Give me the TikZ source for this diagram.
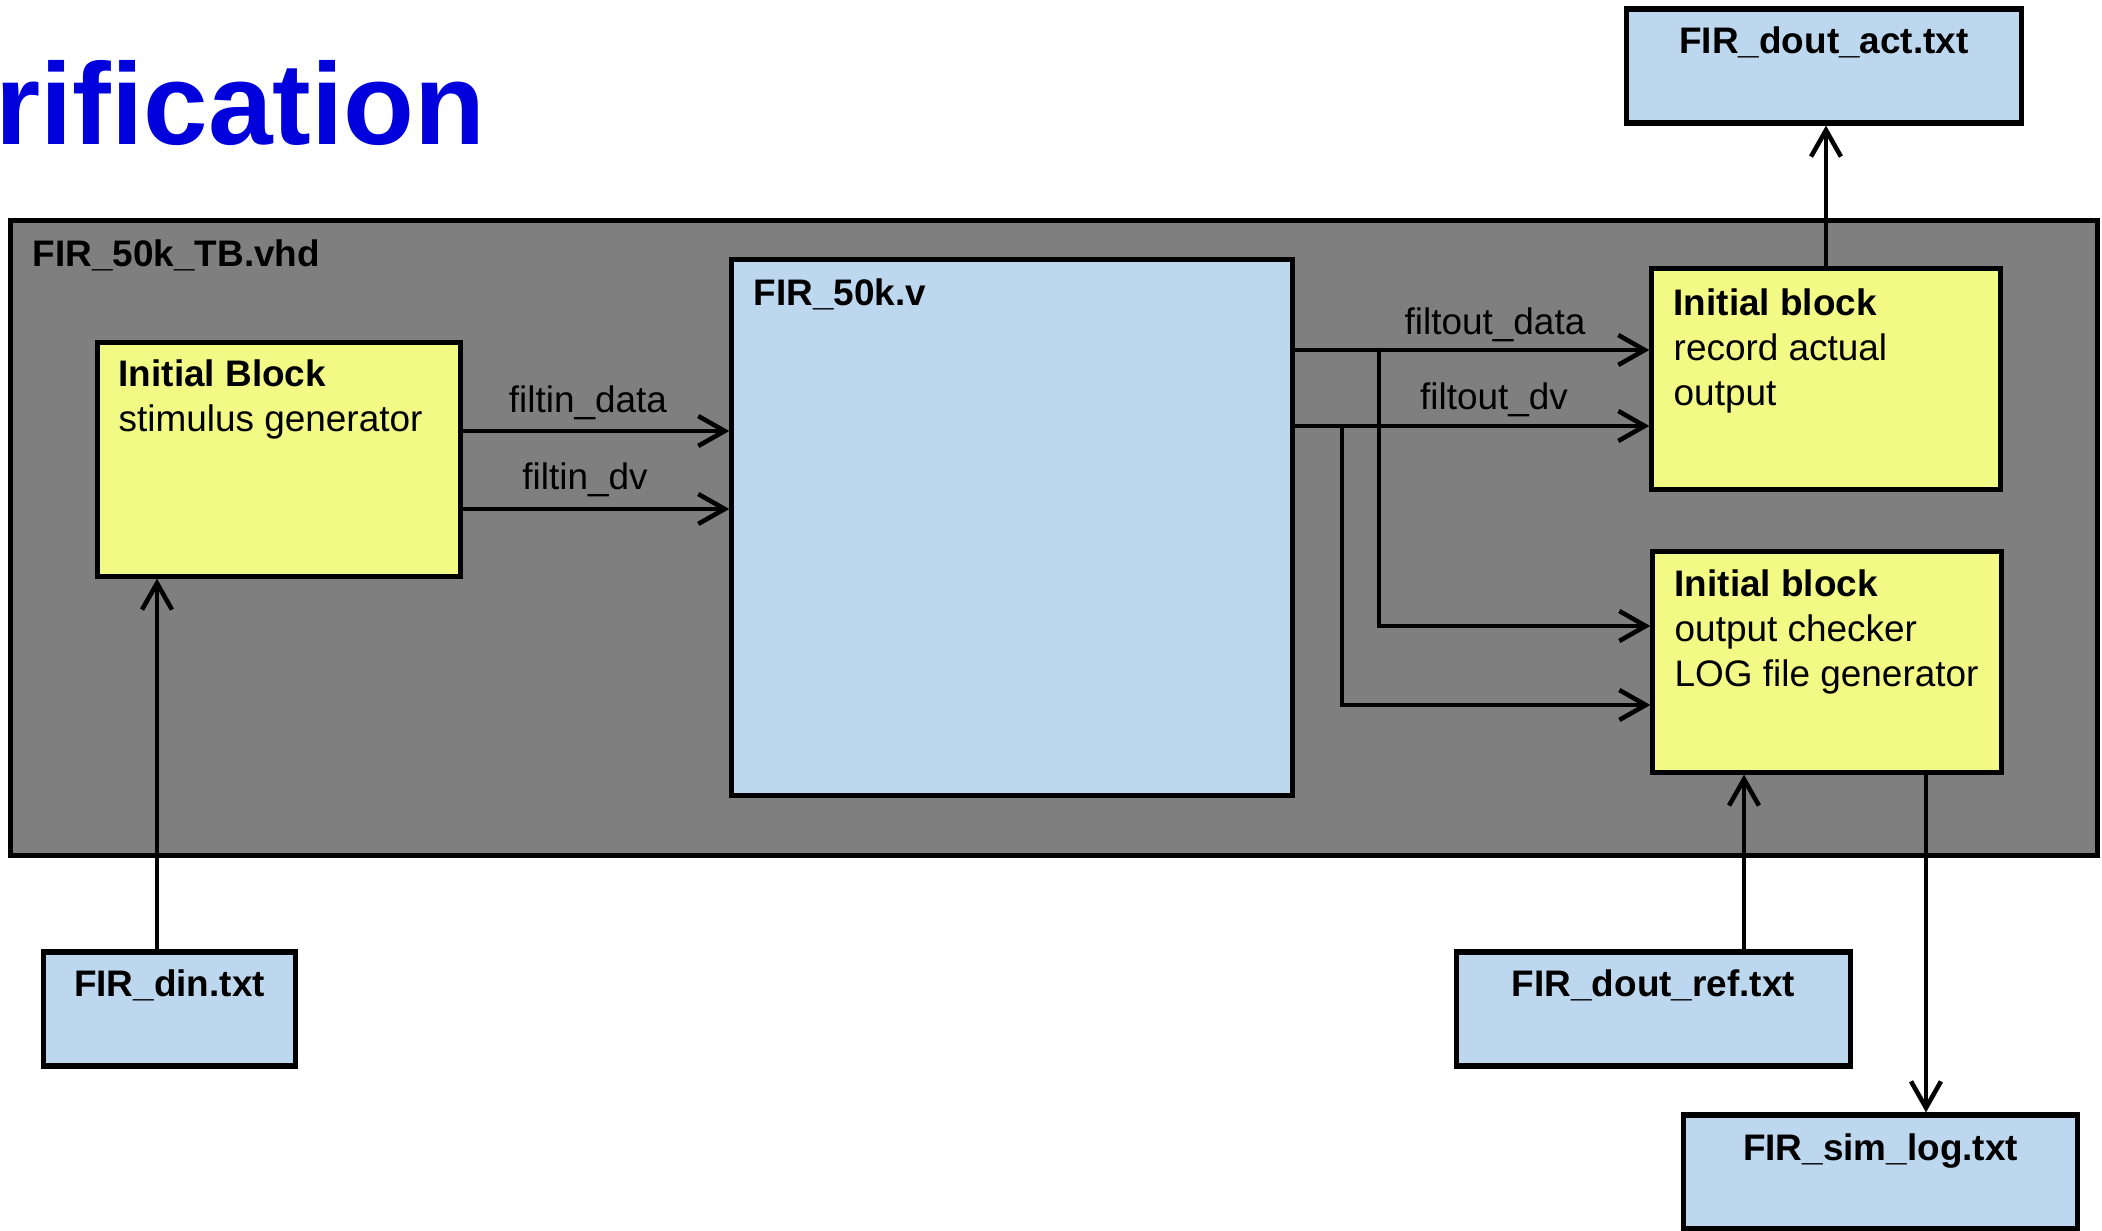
\documentclass[tikz,border=0pt]{standalone}
\usepackage{fontspec}
\setmainfont{Liberation Sans}
\usetikzlibrary{arrows.meta}
\definecolor{tbgray}{RGB}{127,127,127}
\definecolor{blkyel}{RGB}{242,250,133}
\definecolor{filblue}{RGB}{189,215,238}
\definecolor{ttlblue}{RGB}{0,0,220}
\tikzset{tbwrap/.style={draw,line width=1.5pt,fill=tbgray,inner sep=0pt},
         blk/.style={draw,line width=1.45pt,fill=blkyel,inner sep=0pt},
         fil/.style={draw,line width=1.45pt,fill=filblue,inner sep=0pt},
         sig/.style={line width=1.3pt,line cap=round,-{Straight Barb[length=7.5pt,width=8.5pt]}},
         txt/.style={font=\fontsize{10.5}{12.8}\selectfont,inner sep=0pt,align=left},
         btxt/.style={font=\fontsize{10.5}{12.8}\selectfont\bfseries,inner sep=0pt}}
\begin{document}
\begin{tikzpicture}[x=0.01cm,y=-0.01cm]
  \useasboundingbox (0,0) rectangle (2102,1231);
  % title, cut at the left
  \node[font=\fontsize{33}{36}\selectfont\bfseries,text=ttlblue,inner sep=0pt,anchor=base east] (ttl) at (486,145) {rification};
  % test bench and the blocks in it (text anchored at its last baseline)
  \node[tbwrap,minimum width=20.86cm,minimum height=6.34cm] (tb) at (1054,538) {};
  \node[btxt,anchor=base west] (tbn) at (32,267) {FIR\_50k\_TB.vhd};
  \node[blk,minimum width=3.62cm,minimum height=2.33cm] (stim) at (279,459.5) {};
  \node[txt,anchor=base west] (stimt) at (118,432) {\textbf{Initial Block}\\stimulus generator};
  \node[fil,minimum width=5.6cm,minimum height=5.35cm] (dut) at (1012,527.5) {};
  \node[btxt,anchor=base west] (dutn) at (753,306) {FIR\_50k.v};
  \node[blk,minimum width=3.48cm,minimum height=2.2cm] (rec) at (1826,379) {};
  \node[txt,anchor=base west] (rect) at (1673,406) {\textbf{Initial block}\\record actual\\output};
  \node[blk,minimum width=3.48cm,minimum height=2.2cm] (chk) at (1827,662) {};
  \node[txt,anchor=base west] (chkt) at (1674,687) {\textbf{Initial block}\\output checker\\LOG file generator};
  % text files
  \foreach \n/\x/\y/\w/\fn in {act/1824/66/3.94/FIR\_dout\_act.txt,din/169.5/1009/2.51/FIR\_din.txt,
                             ref/1653.5/1009/3.93/FIR\_dout\_ref.txt,log/1880.5/1172/3.93/FIR\_sim\_log.txt}
     {\node[fil,minimum width=\w cm,minimum height=1.14cm] (\n) at (\x,\y) {};
      \node[btxt,anchor=base] at (\x,\y-12) {\fn};}
  % signals
  \draw[sig] (stim.east |- 0,431) -- (dut.west |- 0,431);
  \draw[sig] (stim.east |- 0,509) -- (dut.west |- 0,509);
  \node[txt,anchor=base] (l1) at (588,413) {filtin\_data};
  \node[txt,anchor=base] (l2) at (585,490) {filtin\_dv};
  \coordinate (jd) at (1379,350); \coordinate (jv) at (1342,426);
  \draw[sig] (dut.east |- jd) -- (rec.west |- jd);
  \draw[sig] (dut.east |- jv) -- (rec.west |- jv);
  \draw[sig] (jd) |- (chk.west |- 0,626);
  \draw[sig] (jv) |- (chk.west |- 0,705);
  \node[txt,anchor=base] (l3) at (1495,335) {filtout\_data};
  \node[txt,anchor=base] (l4) at (1494,410) {filtout\_dv};
  % file traffic
  \draw[sig] (din.north -| 157,0) -- (stim.south -| 157,0);
  \draw[sig] (rec.north) -- (rec.north |- act.south);
  \draw[sig] (ref.north -| 1744,0) -- (chk.south -| 1744,0);
  \draw[sig] (chk.south -| 1926,0) -- (log.north -| 1926,0);
\end{tikzpicture}
\end{document}
